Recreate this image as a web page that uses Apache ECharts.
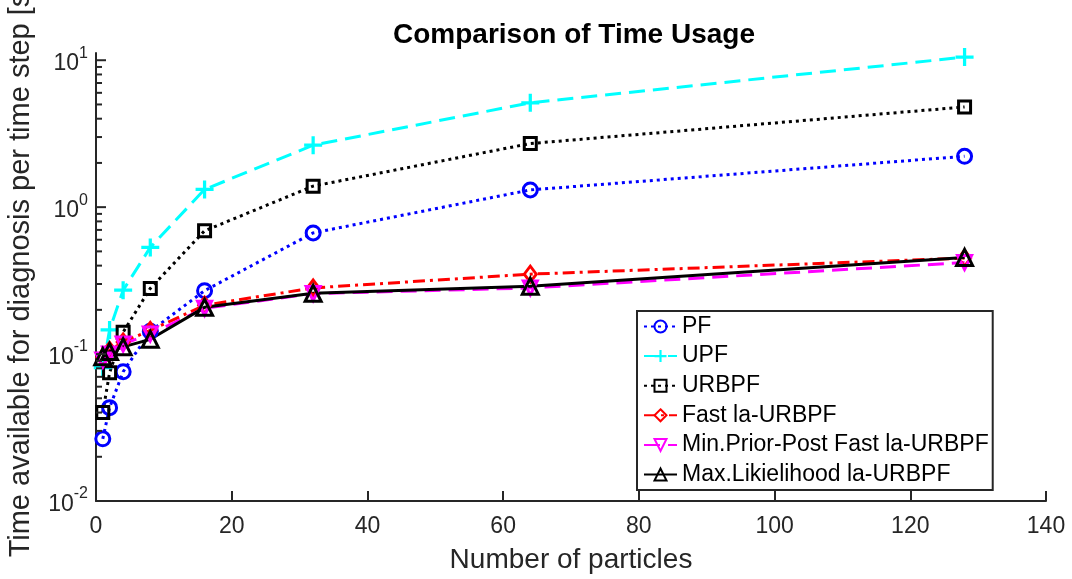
<!DOCTYPE html>
<html>
<head>
<meta charset="utf-8">
<script src="https://cdn.jsdelivr.net/npm/echarts@6/dist/echarts.min.js"></script>
<style>
  html, body { margin: 0; padding: 0; background: #fff; }
  #main { width: 1072px; height: 579px; }
</style>
</head>
<body>
<div id="main"></div>
<script>
// number of particles
var particles = [1, 2, 4, 8, 16, 32, 64, 128];

// time per step [s]
var pf      = [0.0265, 0.0432, 0.0758, 0.143, 0.270, 0.668, 1.31, 2.22];
var upf     = [0.081, 0.146, 0.272, 0.532, 1.32, 2.64, 5.13, 10.5];
var urbpf   = [0.0400, 0.0745, 0.141, 0.280, 0.690, 1.39, 2.71, 4.81];
var fastLa  = [0.095, 0.106, 0.121, 0.145, 0.215, 0.282, 0.350, 0.450];
var minPP   = [0.091, 0.100, 0.117, 0.137, 0.205, 0.258, 0.282, 0.420];
var maxLik  = [0.096, 0.104, 0.112, 0.126, 0.208, 0.259, 0.290, 0.455];

var seriesNames = ['PF', 'UPF', 'URBPF', 'Fast la-URBPF', 'Min.Prior-Post Fast la-URBPF', 'Max.Likielihood la-URBPF'];

// axis ticks
var xTicks = [0, 20, 40, 60, 80, 100, 120, 140];
var yDecades = [-2, -1, 0, 1];

var FONT = '"Liberation Sans", Arial, Helvetica, sans-serif';
var AXIS = '#262626';
var PLUS = 'path://M4.1,0H5.9V4.1H10V5.9H5.9V10H4.1V5.9H0V4.1H4.1Z';

var pairs = function(ys) {
    var out = [];
    for (var i = 0; i < particles.length; i++) {
        out.push([particles[i], ys[i]]);
    }
    return out;
};

// y ticks: major at 10^k, minor at 2..9 x 10^k
var yTickData = [];
for (var d = 0; d < yDecades.length; d++) {
    var base = Math.pow(10, yDecades[d]);
    yTickData.push([0, base, 10]);
    if (d < yDecades.length - 1) {
        for (var m = 2; m <= 9; m++) {
            yTickData.push([0, base * m, 6]);
        }
    }
}

var lineSeries = function(name, ys, color, dash, symbol, size, rotate, fill) {
    return {
        name: name,
        type: 'line',
        data: pairs(ys),
        symbol: symbol,
        symbolSize: size,
        symbolRotate: rotate || 0,
        lineStyle: { color: color, width: 3, type: dash },
        itemStyle: fill ? { color: color, borderWidth: 0 }
                        : { color: 'rgba(255,255,255,0)', borderColor: color, borderWidth: 3 },
        emphasis: { disabled: true },
        z: 3
    };
};

var chart = echarts.init(document.getElementById('main'));

chart.setOption({
    animation: false,
    backgroundColor: '#fff',
    title: {
        text: 'Comparison of Time Usage',
        left: 569,
        textAlign: 'center',
        top: 16,
        textStyle: { fontFamily: FONT, fontSize: 28, fontWeight: 'bold', color: '#000' }
    },
    grid: { left: 96, right: 26, top: 53, bottom: 78, containLabel: false, outerBoundsMode: 'none' },
    xAxis: {
        type: 'value',
        min: xTicks[0],
        max: xTicks[xTicks.length - 1],
        interval: 20,
        name: 'Number of particles',
        nameLocation: 'middle',
        nameGap: 45,
        nameTextStyle: { fontFamily: FONT, fontSize: 28, color: AXIS },
        axisLine: { show: true, onZero: false, lineStyle: { color: AXIS, width: 2 } },
        axisTick: { show: true, inside: true, length: 10, lineStyle: { color: AXIS, width: 2 } },
        axisLabel: { fontFamily: FONT, fontSize: 23, color: AXIS, margin: 14 },
        splitLine: { show: false }
    },
    yAxis: {
        type: 'log',
        logBase: 10,
        min: 0.01,
        max: 11.2,
        name: 'Time available for diagnosis per time step [s]',
        nameLocation: 'middle',
        nameGap: 61,
        nameTextStyle: { fontFamily: FONT, fontSize: 29, color: AXIS, padding: [0, 0, 0, 12] },
        axisLine: { show: true, onZero: false, lineStyle: { color: AXIS, width: 2 } },
        axisTick: { show: false },
        splitLine: { show: false },
        axisLabel: {
            margin: 8,
            showMaxLabel: false,
            formatter: function(v) {
                var e = Math.round(Math.log10(v));
                if (Math.abs(Math.log10(v) - e) > 1e-6) return '';
                return '{b|10}{s|' + e + '}';
            },
            rich: {
                b: { fontFamily: FONT, fontSize: 23, color: AXIS, lineHeight: 30, verticalAlign: 'bottom' },
                s: { fontFamily: FONT, fontSize: 16, color: AXIS, lineHeight: 16, verticalAlign: 'top' }
            }
        }
    },
    legend: {
        orient: 'vertical',
        left: 637,
        top: 311,
        backgroundColor: '#fff',
        borderColor: AXIS,
        borderWidth: 2,
        borderRadius: 0,
        padding: [4, 4, 4, 6],
        itemWidth: 33,
        itemHeight: 15,
        itemGap: 6.6,
        textStyle: { fontFamily: FONT, fontSize: 23, color: '#000' },
        data: seriesNames
    },
    series: [
        lineSeries(seriesNames[0], pf, '#0000ff', [3, 4], 'circle', 14),
        lineSeries(seriesNames[1], upf, '#00ffff', [16, 8], PLUS, 18, 0, true),
        lineSeries(seriesNames[2], urbpf, '#000000', [3, 4], 'rect', 12),
        lineSeries(seriesNames[3], fastLa, '#ff0000', [12, 5, 3, 5], 'diamond', [12, 16]),
        lineSeries(seriesNames[4], minPP, '#ff00ff', [16, 8], 'triangle', 14, 180),
        lineSeries(seriesNames[5], maxLik, '#000000', 'solid', 'triangle', 16),
        {
            type: 'custom',
            silent: true,
            z: 5,
            data: yTickData,
            renderItem: function(params, api) {
                var p = api.coord([0, api.value(1)]);
                var len = api.value(2);
                return {
                    type: 'line',
                    shape: { x1: p[0], y1: p[1], x2: p[0] + len, y2: p[1] },
                    style: { stroke: AXIS, lineWidth: 2 }
                };
            }
        }
    ]
});
</script>
</body>
</html>
